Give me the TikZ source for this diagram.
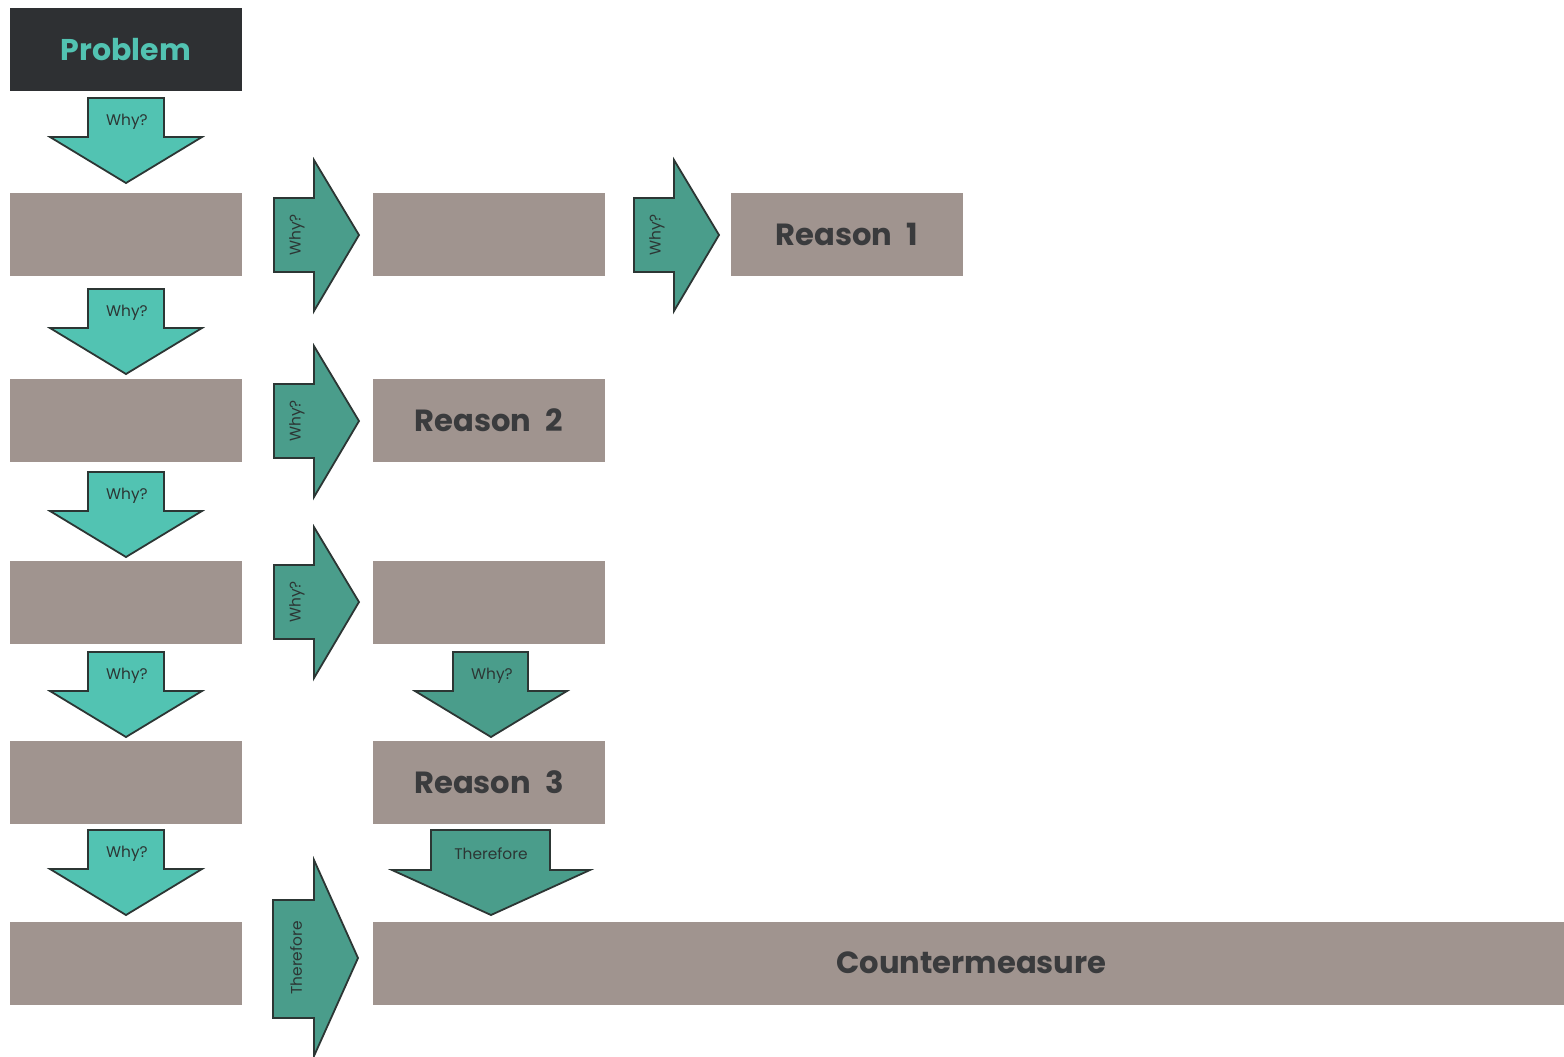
\documentclass[tikz,border=0pt]{standalone}
\usepackage{fontspec}
\setmainfont{Poppins}[WordSpace=2.2]
\usetikzlibrary{positioning}
\definecolor{boxgrey}{HTML}{A0948F}
\definecolor{problemfill}{HTML}{2E3033}
\definecolor{lightteal}{HTML}{52C3B2}
\definecolor{darkteal}{HTML}{4A9D8B}
\definecolor{edgeline}{HTML}{2C3634}
\definecolor{labeltext}{HTML}{3A3B3D}

\tikzset{
  stepbox/.style={fill=boxgrey, minimum width=116pt, minimum height=41.5pt, inner sep=0pt,
    text=labeltext, font=\bfseries\fontsize{15.3}{18}\selectfont},
  problembox/.style={stepbox, fill=problemfill, text=lightteal, font=\bfseries\fontsize{15}{18}\selectfont},
  blockarrow/.style={draw=edgeline, line width=0.9pt, line join=miter},
  whytext/.style={inner sep=0pt, text=edgeline, font=\fontsize{7.7}{9}\selectfont}
}

\begin{document}
\begin{tikzpicture}[x=0.5pt, y=-0.5pt]
    \useasboundingbox (0,0) rectangle (1564,1056);
    % Problem
    \node[problembox] (problem) at (126,49.5) {Problem};
    % Left column of boxes
    \foreach \y/\n in {234.5/a, 420/b, 602.5/c, 782.5/d, 963/e}
        \node[stepbox] (left-\n) at (126,\y) {};
    % Middle column and the far right
    \node[stepbox] (mid-a) at (489,234.5) {};
    \node[stepbox] (reason-two) at (489,420) {Reason 2};
    \node[stepbox] (mid-c) at (489,602.5) {};
    \node[stepbox] (reason-three) at (489,782.5) {Reason 3};
    \node[stepbox] (reason-one) at (847,234.5) {Reason 1};
    \node[stepbox, minimum width=595.5pt] (counter) at (968.5,963) {\hspace*{3pt}Countermeasure};
    % Down arrows, left column
    \foreach \t in {98,289,472,652,830}{
        \draw[blockarrow, fill=lightteal] (88,\t) -- (164,\t) -- (164,{\t+39}) -- (202,{\t+39})
            -- (126,{\t+85}) -- (50,{\t+39}) -- (88,{\t+39}) -- cycle;
        \node[whytext] (why-down-\t) at (127,{\t+24}) {Why?};
    }
    % Right arrows
    \foreach \x/\c in {274/235, 634/235, 274/421, 274/602}{
        \draw[blockarrow, fill=darkteal] (\x,{\c-37}) -- ({\x+40},{\c-37}) -- ({\x+40},{\c-75})
            -- ({\x+85},\c) -- ({\x+40},{\c+76}) -- ({\x+40},{\c+37}) -- (\x,{\c+37}) -- cycle;
        \node[whytext, rotate=90] (why-right-\x-\c) at ({\x+23},\c) {Why?};
    }
    % Down arrow to Reason 3
    \draw[blockarrow, fill=darkteal] (453,652) -- (528,652) -- (528,691) -- (567,691)
        -- (491,737) -- (415,691) -- (453,691) -- cycle;
    \node[whytext] (why-mid) at (492,676) {Why?};
    % Therefore arrows
    \draw[blockarrow, fill=darkteal] (431,830) -- (550,830) -- (550,870) -- (590,870)
        -- (491,915) -- (392,870) -- (431,870) -- cycle;
    \node[whytext] (therefore-down) at (491,854) {Therefore};
    \draw[blockarrow, fill=darkteal] (273,900) -- (314,900) -- (314,860) -- (358,958)
        -- (314,1056) -- (314,1018) -- (273,1018) -- cycle;
    \node[whytext, rotate=90] (therefore-right) at (296,958) {Therefore};
\end{tikzpicture}
\end{document}
